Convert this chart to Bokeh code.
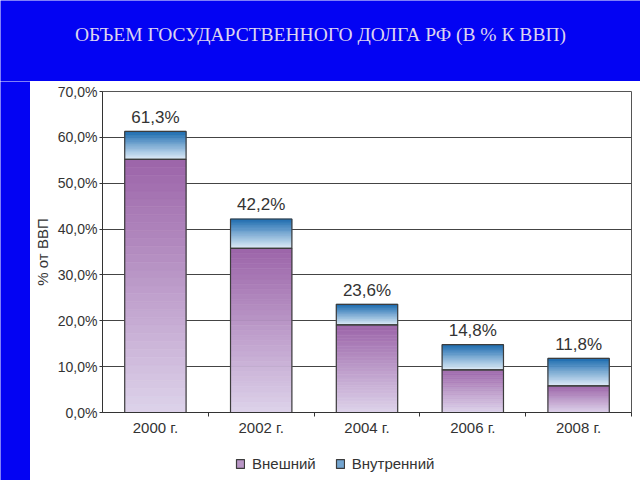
import numpy as np
from bokeh.plotting import figure
from bokeh.models import (ColumnDataSource, FixedTicker, Legend, LegendItem, Label, Range1d)
from bokeh.layouts import column, row
from bokeh.embed import file_html
from bokeh.resources import INLINE
from bokeh.core.properties import value

# ---------------- data ----------------
years = ["2000 г.", "2002 г.", "2004 г.", "2006 г.", "2008 г."]
external = [55.2, 35.8, 19.1, 9.3, 5.8]     # Внешний
internal = [6.1, 6.4, 4.5, 5.5, 6.0]        # Внутренний
total_labels = ["61,3%", "42,2%", "23,6%", "14,8%", "11,8%"]
y_ticks = [0, 10, 20, 30, 40, 50, 60, 70]
y_tick_labels = ["0,0%", "10,0%", "20,0%", "30,0%", "40,0%", "50,0%", "60,0%", "70,0%"]
series_names = ["Внешний", "Внутренний"]
title_text = "ОБЪЕМ ГОСУДАРСТВЕННОГО ДОЛГА РФ (В % К ВВП)"
y_label = "% от ВВП"

BLUE_BG = "#0303F3"
FONT = "Liberation Sans"
TXT = "#333333"


def hex2rgb(h):
    h = h.lstrip("#")
    return tuple(int(h[i:i + 2], 16) for i in (0, 2, 4))


def lerp(c1, c2, t):
    a, b = hex2rgb(c1), hex2rgb(c2)
    return "#%02x%02x%02x" % tuple(int(round(a[i] + (b[i] - a[i]) * t)) for i in range(3))


N = 32
K_MID = int(N * 0.55)


def gradient_source(bottoms, tops, c_bottom, c_top):
    order = [K_MID] + [k for k in range(N) if k != K_MID]
    xs, bs, ts, cs = [], [], [], []
    for k in order:
        for i, (b, t) in enumerate(zip(bottoms, tops)):
            xs.append(i + 0.5)
            bs.append(b + (t - b) * k / N)
            ts.append(b + (t - b) * (k + 1) / N)
            cs.append(lerp(c_bottom, c_top, (k + 0.5) / N))
    return ColumnDataSource(dict(x=xs, bottom=bs, top=ts, color=cs))


x_pos = [i + 0.5 for i in range(len(years))]
totals = [e + n for e, n in zip(external, internal)]
BAR_W = 0.58

src_ext = gradient_source([0] * 5, external, "#DDD3EA", "#9C64A9")
src_int = gradient_source(external, totals, "#E2EEF9", "#1869AE")


def bare_fig(w, h, bg):
    f = figure(width=w, height=h, x_range=Range1d(0, w), y_range=Range1d(0, h),
               x_axis_location=None, y_axis_location=None, min_border=0,
               toolbar_location=None, output_backend="svg",
               background_fill_color=bg, border_fill_color=bg,
               outline_line_color=None)
    f.xgrid.visible = False
    f.ygrid.visible = False
    return f


# ---------------- title band ----------------
tfig = bare_fig(640, 81, BLUE_BG)
tfig.add_layout(Label(x=320, y=47, text=title_text, text_align="center",
                      text_baseline="middle", text_font="Liberation Serif",
                      text_font_size="19.5px", text_color="#DCD4F0"))

# ---------------- left blue strip ----------------
sfig = bare_fig(30, 399, BLUE_BG)

# ---------------- main chart ----------------
p = figure(width=610, height=365, x_range=Range1d(0, 5), y_range=Range1d(0, 70),
           toolbar_location=None, output_backend="svg",
           min_border_left=68, min_border_right=9, min_border_top=10, min_border_bottom=34,
           background_fill_color="white", border_fill_color="white",
           outline_line_color="#555555", outline_line_width=1)

p.xgrid.visible = False
p.ygrid.ticker = FixedTicker(ticks=y_ticks)
p.ygrid.grid_line_color = "#444444"
p.ygrid.grid_line_width = 1


def draw_bars(f):
    r1 = f.vbar(x="x", bottom="bottom", top="top", width=BAR_W, source=src_ext,
                fill_color="color", line_color="color", line_width=0.6)
    r2 = f.vbar(x="x", bottom="bottom", top="top", width=BAR_W, source=src_int,
                fill_color="color", line_color="color", line_width=0.6)
    o1 = f.vbar(x=x_pos, bottom=0, top=external, width=BAR_W, fill_alpha=0,
                line_color="#3c3c3c", line_width=1.2)
    o2 = f.vbar(x=x_pos, bottom=external, top=totals, width=BAR_W, fill_alpha=0,
                line_color="#3c3c3c", line_width=1.2)
    return r1, r2, o1, o2


draw_bars(p)

p.text(x=x_pos, y=totals, text=total_labels, text_align="center",
       text_baseline="alphabetic", y_offset=-14, text_font=value(FONT),
       text_font_size="17px", text_color=TXT)

# y axis
p.yaxis.ticker = FixedTicker(ticks=y_ticks)
p.yaxis.major_label_overrides = {t: l for t, l in zip(y_ticks, y_tick_labels)}
p.yaxis.major_label_text_font = FONT
p.yaxis.major_label_text_font_size = "14px"
p.yaxis.major_label_text_color = TXT
p.yaxis.major_tick_out = 3
p.yaxis.major_tick_in = 0
p.yaxis.minor_tick_out = 0
p.yaxis.minor_tick_in = 0
p.yaxis.major_label_standoff = 2
p.yaxis.axis_line_color = "#333333"
p.yaxis.major_tick_line_color = "#333333"
p.yaxis.axis_label = y_label
p.yaxis.axis_label_text_font = FONT
p.yaxis.axis_label_text_font_style = "normal"
p.yaxis.axis_label_text_font_size = "15px"
p.yaxis.axis_label_text_color = TXT
p.yaxis.axis_label_standoff = 4

# x axis
p.xaxis.ticker = FixedTicker(ticks=x_pos, minor_ticks=[1, 2, 3, 4, 5])
p.xaxis.major_label_overrides = {x: y for x, y in zip(x_pos, years)}
p.xaxis.major_label_text_font = FONT
p.xaxis.major_label_text_font_size = "15px"
p.xaxis.major_label_text_color = TXT
p.xaxis.major_tick_out = 0
p.xaxis.major_tick_in = 0
p.xaxis.minor_tick_out = 4
p.xaxis.minor_tick_in = 0
p.xaxis.major_label_standoff = 2
p.xaxis.axis_line_color = "#333333"
p.xaxis.minor_tick_line_color = "#333333"

# ---------------- legend strip ----------------
lfig = figure(width=610, height=34, x_range=Range1d(100, 101), y_range=Range1d(100, 101),
              x_axis_location=None, y_axis_location=None, min_border=0,
              toolbar_location=None, output_backend="svg",
              background_fill_color="white", border_fill_color="white",
              outline_line_color=None)
lfig.xgrid.visible = False
lfig.ygrid.visible = False
l1, l2, lo1, lo2 = draw_bars(lfig)

legend = Legend(items=[LegendItem(label=series_names[0], renderers=[l1, lo1], index=0),
                       LegendItem(label=series_names[1], renderers=[l2, lo2], index=0)],
                orientation="horizontal", location=(133, 8),
                background_fill_alpha=0, border_line_alpha=0,
                padding=0, margin=0, spacing=19, glyph_width=10, glyph_height=11,
                label_standoff=7, label_text_font=FONT, label_text_font_size="15px",
                label_text_color=TXT)
lfig.add_layout(legend)

layout = column(tfig, row(sfig, column(p, lfig)))

open("out.html", "w").write(file_html(layout, INLINE))
